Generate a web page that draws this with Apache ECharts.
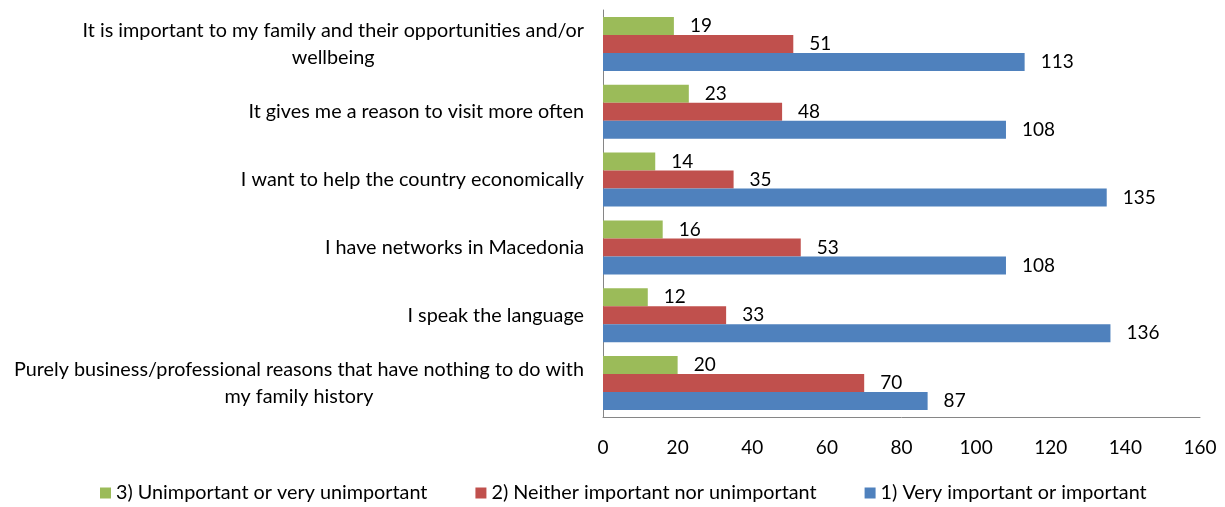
<!DOCTYPE html>
<html>
<head>
<meta charset="utf-8">
<script src="https://cdn.jsdelivr.net/npm/echarts@6/dist/echarts.min.js"></script>
<style>
  html, body { margin: 0; padding: 0; background: #fff; }
  #chart { width: 1225px; height: 507px; }
</style>
</head>
<body>
<div id="chart"></div>
<script>
// Reasons, listed from top to bottom
const categories = [
  'It is important to my family and their opportunities and/or\nwellbeing',
  'It gives me a reason to visit more often',
  'I want to help the country economically',
  'I have networks in Macedonia',
  'I speak the language',
  'Purely business/professional reasons that have nothing to do with\nmy family history'
];
const seriesNames = [
  '3) Unimportant or very unimportant',
  '2) Neither important nor unimportant',
  '1) Very important or important'
];
const unimportant = [19, 23, 14, 16, 12, 20];
const neither = [51, 48, 35, 53, 33, 70];
const important = [113, 108, 135, 108, 136, 87];
const xTicks = { min: 0, max: 160, interval: 20 };

const FONT = 'Lato, "Open Sans", sans-serif';
const TEXT_SIZE = 19.8;
const NUM_SIZE = 19;
const colors = ['#9BBB59', '#C0504D', '#4F81BD'];

function barSeries(name, data, color) {
  return {
    name: name,
    type: 'bar',
    data: data,
    barWidth: 18,
    barGap: '0%',
    itemStyle: { color: color },
    label: {
      show: true,
      position: 'right',
      distance: 16,
      color: '#000',
      fontFamily: FONT,
      fontSize: NUM_SIZE
    }
  };
}

const chart = echarts.init(document.getElementById('chart'), null, { renderer: 'canvas' });
chart.setOption({
  animation: false,
  textStyle: { fontFamily: FONT },
  grid: { left: 603, right: 25, top: 10, bottom: 90, containLabel: false },
  legend: {
    bottom: 4,
    left: 100,
    padding: 0,
    itemWidth: 11,
    itemHeight: 11,
    itemGap: 48,
    icon: 'rect',
    textStyle: { fontFamily: FONT, fontSize: TEXT_SIZE, color: '#000' },
    data: seriesNames
  },
  xAxis: {
    type: 'value',
    min: xTicks.min,
    max: xTicks.max,
    interval: xTicks.interval,
    splitLine: { show: false },
    axisLine: { show: true, lineStyle: { color: '#868686', width: 1 } },
    axisTick: { show: false },
    axisLabel: { margin: 21, fontFamily: FONT, fontSize: NUM_SIZE, color: '#000' }
  },
  yAxis: {
    type: 'category',
    inverse: true,
    data: categories,
    axisLine: { show: true, lineStyle: { color: '#868686', width: 1 } },
    axisTick: { show: false },
    axisLabel: {
      margin: 19,
      color: '#000',
      fontFamily: FONT,
      fontSize: TEXT_SIZE,
      lineHeight: 27,
      formatter: function (v) {
        return v.split('\n').map(function (s) { return '{c|' + s + '}'; }).join('\n');
      },
      rich: {
        c: { align: 'center', fontFamily: FONT, fontSize: TEXT_SIZE, lineHeight: 27, color: '#000' }
      }
    }
  },
  series: [
    barSeries(seriesNames[0], unimportant, colors[0]),
    barSeries(seriesNames[1], neither, colors[1]),
    barSeries(seriesNames[2], important, colors[2])
  ]
});
</script>
</body>
</html>
